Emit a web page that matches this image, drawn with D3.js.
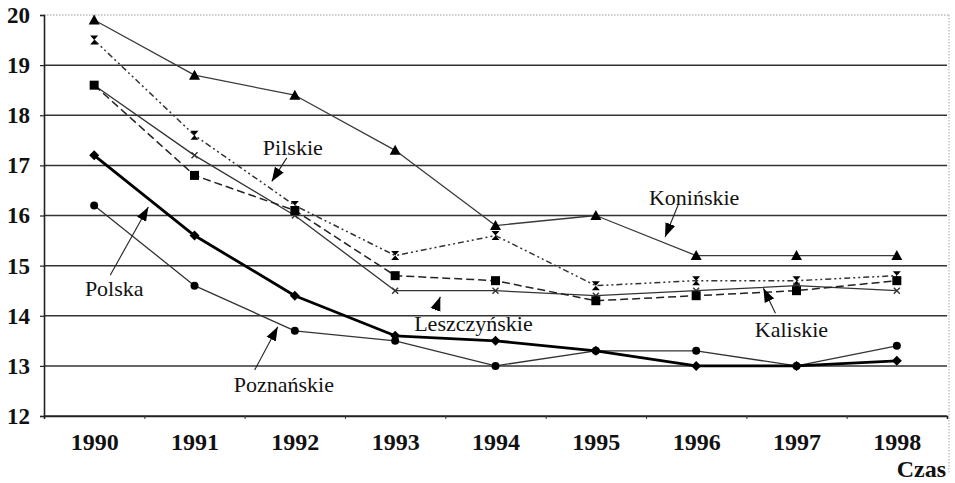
<!DOCTYPE html>
<html>
<head>
<meta charset="utf-8">
<script src="https://cdn.jsdelivr.net/npm/d3@7"></script>
</head>
<body style="margin:0;background:#fff">
<svg id="chart" width="955" height="483" style="display:block"></svg>
<script>
// dane
const years = [1990, 1991, 1992, 1993, 1994, 1995, 1996, 1997, 1998];
const yTicks = [12, 13, 14, 15, 16, 17, 18, 19, 20];

const koninskie    = [19.9, 18.8, 18.4, 17.3, 15.8, 16.0, 15.2, 15.2, 15.2];
const pilskie      = [19.5, 17.6, 16.2, 15.2, 15.6, 14.6, 14.7, 14.7, 14.8];
const leszczynskie = [18.6, 17.2, 16.0, 14.5, 14.5, 14.4, 14.5, 14.6, 14.5];
const kaliskie     = [18.6, 16.8, 16.1, 14.8, 14.7, 14.3, 14.4, 14.5, 14.7];
const polska       = [17.2, 15.6, 14.4, 13.6, 13.5, 13.3, 13.0, 13.0, 13.1];
const poznanskie   = [16.2, 14.6, 13.7, 13.5, 13.0, 13.3, 13.3, 13.0, 13.4];

// podpisy: [tekst, środek tekstu, ogon strzałki, grot strzałki] w jednostkach (rok, wartość)
const labels = [
  ["Pilskie",      [1991.98, 17.35], [1991.92, 17.15], [1991.77, 16.68]],
  ["Polska",       [1990.20, 14.55], [1990.16, 14.81], [1990.54, 16.17]],
  ["Poznańskie",   [1991.89, 12.62], [1991.60, 12.92], [1991.83, 13.78]],
  ["Leszczyńskie", [1993.78, 13.84], [1993.40, 14.11], [1993.45, 14.38]],
  ["Konińskie",    [1995.98, 16.35], [1995.82, 16.21], [1995.69, 15.57]],
  ["Kaliskie",     [1996.95, 13.72], [1996.79, 14.05], [1996.67, 14.55]]
];

const FONT = "Liberation Serif";
const svg = d3.select("#chart").attr("font-family", FONT);
const margin = { left: 44, right: 8, top: 15, bottom: 67 };
const W = 955, H = 483;

const x = d3.scaleLinear()
  .domain([years[0] - 0.5, years[years.length - 1] + 0.5])
  .range([margin.left, W - margin.right]);
const y = d3.scaleLinear()
  .domain([12, 20])
  .range([H - margin.bottom, margin.top]);

// ramka (skan) – kropkowana górna i prawa krawędź
svg.append("line")
  .attr("x1", x.range()[0]).attr("x2", x.range()[1] + 2)
  .attr("y1", y(20)).attr("y2", y(20))
  .attr("stroke", "#999").attr("stroke-width", 1).attr("stroke-dasharray", "1.5,1.5");
svg.append("line")
  .attr("x1", x.range()[1] + 2).attr("x2", x.range()[1] + 2)
  .attr("y1", y(20)).attr("y2", H - 10)
  .attr("stroke", "#aaa").attr("stroke-width", 1).attr("stroke-dasharray", "1.5,1.5");

// linie siatki
svg.append("g")
  .selectAll("line")
  .data(yTicks.filter(t => t < 20))
  .join("line")
  .attr("x1", x.range()[0]).attr("x2", x.range()[1])
  .attr("y1", d => y(d)).attr("y2", d => y(d))
  .attr("stroke", "#333").attr("stroke-width", 1.5);

// oś Y
const yAxis = svg.append("g")
  .attr("transform", `translate(${margin.left},0)`)
  .call(d3.axisLeft(y).tickValues(yTicks).tickSize(4).tickPadding(10).tickFormat(d3.format("d")))
  .attr("font-family", FONT).attr("font-size", 23).attr("font-weight", "bold");
yAxis.select(".domain").attr("stroke", "#222").attr("stroke-width", 1.6);
yAxis.selectAll(".tick line").attr("stroke", "#222").attr("stroke-width", 1.2);
yAxis.selectAll("text").attr("fill", "#111");

// oś X – kreski na granicach lat, podpisy w środku
const xAxis = svg.append("g")
  .attr("transform", `translate(0,${y(12)})`)
  .call(d3.axisBottom(x)
    .tickValues(d3.range(years[0] + 0.5, years[years.length - 1], 1))
    .tickSize(3).tickFormat(""));
xAxis.select(".domain").attr("stroke", "#222").attr("stroke-width", 1.6);
xAxis.selectAll(".tick line").attr("stroke", "#333").attr("stroke-width", 1);

const xLabels = svg.append("g")
  .attr("transform", `translate(0,${y(12)})`)
  .call(d3.axisBottom(x).tickValues(years).tickSize(0).tickPadding(17).tickFormat(d3.format("d")))
  .attr("font-family", FONT).attr("font-size", 24).attr("font-weight", "bold");
xLabels.select(".domain").remove();
xLabels.selectAll("text").attr("fill", "#111");

svg.append("text")
  .attr("x", W - 9).attr("y", 477)
  .attr("text-anchor", "end")
  .attr("font-family", FONT).attr("font-size", 24).attr("font-weight", "bold")
  .attr("fill", "#111")
  .text("Czas");

// serie
const series = [
  { name: "Konińskie",    values: koninskie,    width: 1.3, color: "#3a3a3a", dash: null,          marker: "triangle" },
  { name: "Pilskie",      values: pilskie,      width: 1.5, color: "#333",    dash: "6,3,2,3,2,3", marker: "hourglass" },
  { name: "Leszczyńskie", values: leszczynskie, width: 1.3, color: "#333",    dash: null,          marker: "cross" },
  { name: "Kaliskie",     values: kaliskie,     width: 1.5, color: "#222",    dash: "8,4",         marker: "square" },
  { name: "Poznańskie",   values: poznanskie,   width: 1.3, color: "#333",    dash: null,          marker: "circle" },
  { name: "Polska",       values: polska,       width: 2.8, color: "#000",    dash: null,          marker: "diamond" }
];

const line = d3.line()
  .x((d, i) => x(years[i]))
  .y(d => y(d));

svg.append("g").selectAll("path")
  .data(series)
  .join("path")
  .attr("d", s => line(s.values))
  .attr("fill", "none")
  .attr("stroke", s => s.color)
  .attr("stroke-width", s => s.width)
  .attr("stroke-dasharray", s => s.dash)
  .attr("stroke-linejoin", "round");

const markerPath = {
  triangle: "M0,-5.5L5.5,4.5L-5.5,4.5Z",
  square: "M-4.5,-4.5H4.5V4.5H-4.5Z",
  hourglass: "M-4,-4.5H4L0,0L4,4.5H-4L0,0Z",
  diamond: "M0,-5L5,0L0,5L-5,0Z",
  cross: "M-3,-3L3,3M3,-3L-3,3"
};

const gMarks = svg.append("g");
series.forEach(s => {
  const pts = gMarks.append("g").selectAll("g")
    .data(s.values)
    .join("g")
    .attr("transform", (d, i) => `translate(${x(years[i])},${y(d)})`);
  if (s.marker === "circle") {
    pts.append("circle").attr("r", 4).attr("fill", "#000");
  } else if (s.marker === "cross") {
    pts.append("path").attr("d", markerPath.cross)
      .attr("stroke", "#333").attr("stroke-width", 1.4).attr("fill", "none");
  } else {
    pts.append("path").attr("d", markerPath[s.marker]).attr("fill", "#000");
  }
});

// podpisy ze strzałkami (grot: wypełniony trójkąt)
svg.append("defs").append("marker")
  .attr("id", "arrow")
  .attr("viewBox", "0 0 10 10")
  .attr("refX", 10).attr("refY", 5)
  .attr("markerWidth", 14).attr("markerHeight", 14)
  .attr("markerUnits", "userSpaceOnUse")
  .attr("orient", "auto")
  .append("path").attr("d", "M0,1.3L10,5L0,8.7Z").attr("fill", "#000");

const gAnn = svg.append("g");
labels.forEach(([txt, t, tail, head]) => {
  gAnn.append("line")
    .attr("x1", x(tail[0])).attr("y1", y(tail[1]))
    .attr("x2", x(head[0])).attr("y2", y(head[1]))
    .attr("stroke", "#222").attr("stroke-width", 1.1)
    .attr("marker-end", "url(#arrow)");
  gAnn.append("text")
    .attr("x", x(t[0])).attr("y", y(t[1]))
    .attr("text-anchor", "middle")
    .attr("dominant-baseline", "central")
    .attr("font-family", FONT)
    .attr("font-size", 22)
    .attr("fill", "#111")
    .text(txt);
});
</script>
</body>
</html>
